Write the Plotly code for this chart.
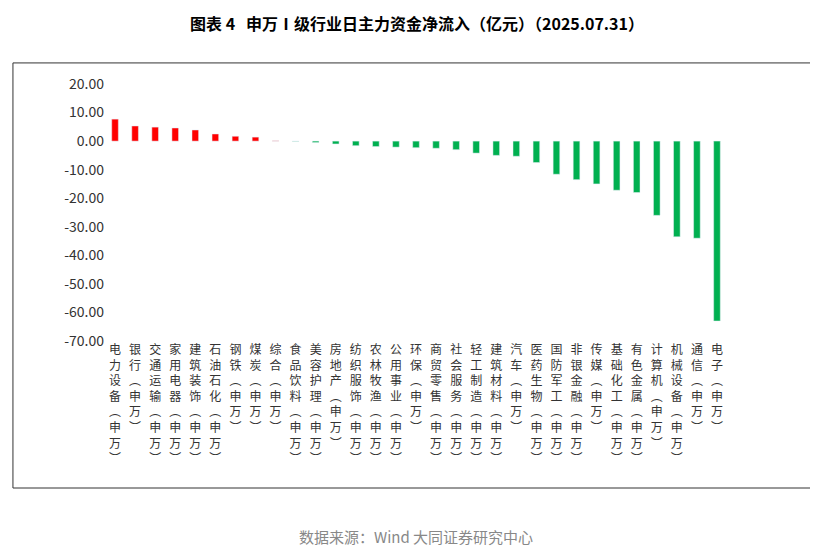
import plotly.graph_objects as go

industries = ["电力设备", "银行", "交通运输", "家用电器", "建筑装饰", "石油石化", "钢铁", "煤炭",
              "综合", "食品饮料", "美容护理", "房地产", "纺织服饰", "农林牧渔", "公用事业", "环保",
              "商贸零售", "社会服务", "轻工制造", "建筑材料", "汽车", "医药生物", "国防军工", "非银金融",
              "传媒", "基础化工", "有色金属", "计算机", "机械设备", "通信", "电子"]
net_inflow = [7.7, 5.3, 4.9, 4.6, 3.9, 2.5, 1.7, 1.4,
              0.1, -0.1, -0.5, -1.0, -1.6, -1.9, -2.1, -2.3,
              -2.5, -3.0, -4.2, -5.0, -5.3, -7.5, -11.6, -13.5,
              -15.0, -17.2, -18.0, -26.0, -33.5, -34.0, -63.0]
y_ticks = [20, 10, 0, -10, -20, -30, -40, -50, -60, -70]

labels = ["<br>".join(list(n) + ["︵", "申", "万", "︶"]) for n in industries]
colors = ["#FF0000" if v >= 0 else "#00B050" for v in net_inflow]

fig = go.Figure(go.Bar(x=labels, y=net_inflow, marker_color=colors, width=0.33))

font = "Noto Sans CJK SC"
fig.update_layout(
    width=818, height=556,
    margin=dict(l=97, r=99, t=76, b=223),
    paper_bgcolor="white", plot_bgcolor="white",
    showlegend=False,
    font=dict(family=font, size=13, color="#333333"),
    title=dict(text="<b>图表 4   申万Ⅰ级行业日主力资金净流入（亿元）（2025.07.31）</b>",
               x=0.5, xanchor="center", y=0.97, yref="container", yanchor="middle",
               font=dict(size=16, color="#000000")),
    xaxis=dict(tickangle=0, showline=False, ticks="", tickfont=dict(size=12), automargin=False),
    yaxis=dict(range=[-70, 20], tickvals=y_ticks, ticktext=[f"{v:.2f}" for v in y_ticks],
               showgrid=False, zeroline=False, showline=False, tickfont=dict(size=14),
               automargin=False),
    shapes=[dict(type="rect", xref="paper", yref="paper", x0=-0.148, x1=1.151, y0=-0.572, y1=1.082,
                 line=dict(color="#333333", width=1))],
    annotations=[
        dict(text="数据来源：Wind 大同证券研究中心", xref="paper", yref="paper",
             x=0.5, y=-0.809, showarrow=False, font=dict(size=15, color="#888888")),
    ],
)
fig.write_html("out.html")
